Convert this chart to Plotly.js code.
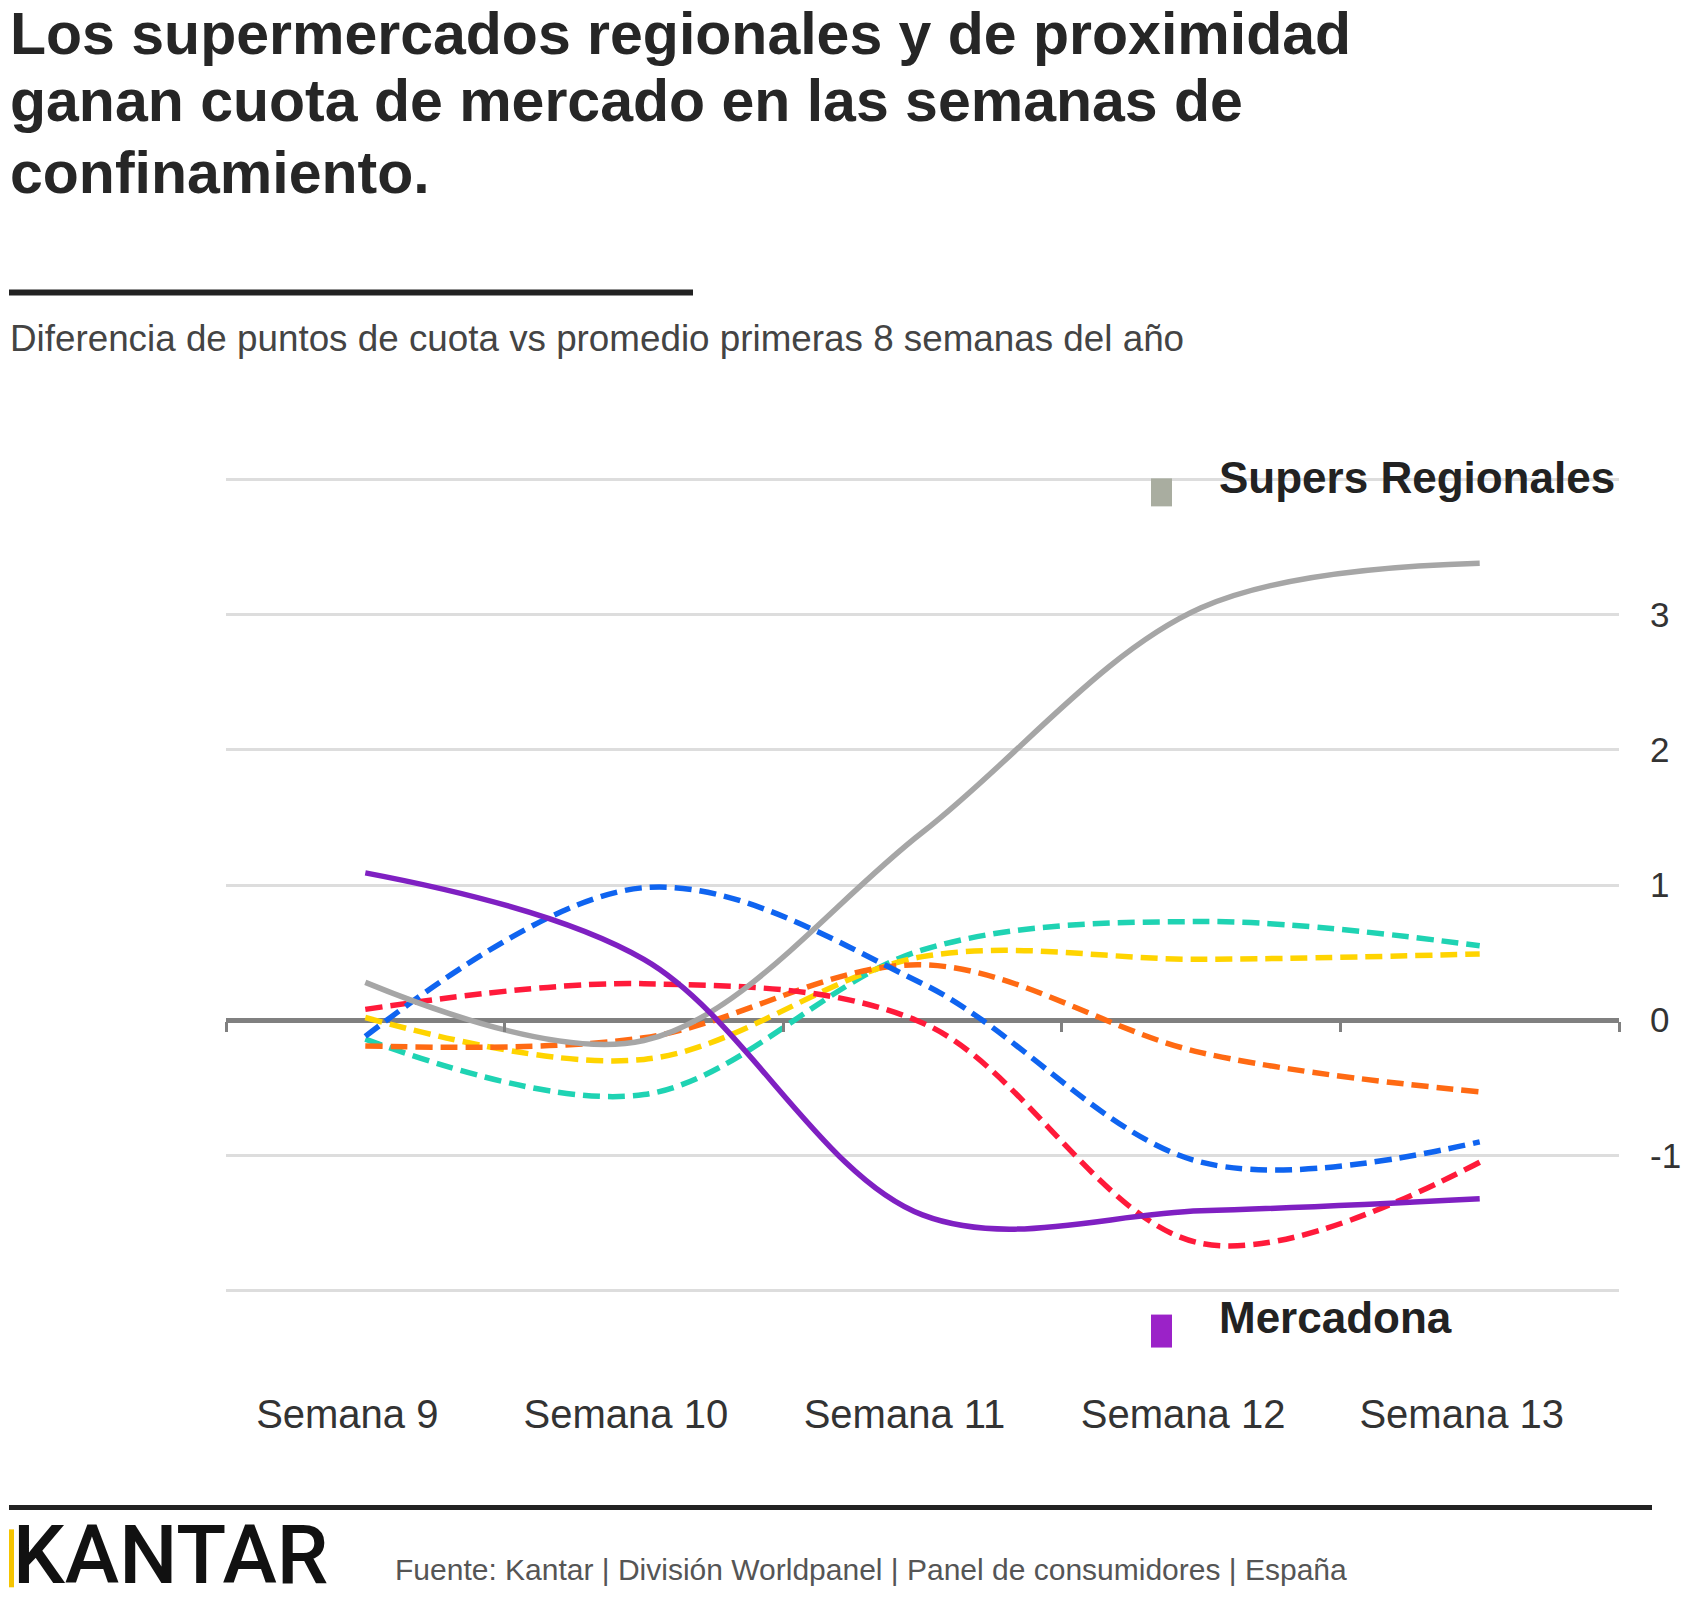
<!DOCTYPE html>
<html><head><meta charset="utf-8">
<script src="https://cdn.plot.ly/plotly-3.0.1.min.js"></script>
<style>html,body{margin:0;padding:0;background:#fff;}#chart{width:1706px;height:1604px;}</style>
</head><body><div id="chart"></div>
<script>
// ---- data ----
const weeks = ['Semana 9', 'Semana 10', 'Semana 11', 'Semana 12', 'Semana 13'];
const superRegionales = [0.28, -0.15, 1.39, 3.05, 3.38];
const mercadona = [1.09, 0.45, -1.44, -1.41, -1.32];
const serieAzul = [-0.12, 0.98, 0.27, -1.05, -0.90];
const serieRoja = [0.08, 0.27, -0.02, -1.65, -1.05];
const serieNaranja = [-0.19, -0.13, 0.41, -0.24, -0.53];
const serieAmarilla = [0.02, -0.29, 0.47, 0.45, 0.49];
const serieTurquesa = [-0.14, -0.55, 0.52, 0.73, 0.55];
const yTickVals = [-2, -1, 0, 1, 2, 3, 4];
const yTickText = ['', '-1', '0', '1', '2', '3', ''];
const legendNames = ['Supers Regionales', 'Mercadona'];
const titleLines = ['Los supermercados regionales y de proximidad', 'ganan cuota de mercado en las semanas de', 'confinamiento.'];
const subtitle = 'Diferencia de puntos de cuota vs promedio primeras 8 semanas del año';
const source = 'Fuente: Kantar | División Worldpanel | Panel de consumidores | España';

// ---- geometry helpers (pixels -> paper) ----
const W = 1706, H = 1604;
const M = {l: 226, r: 87, t: 477.6, b: 311.6};
const PW = W - M.l - M.r, PH = H - M.t - M.b;
const px = x => (x - M.l) / PW;
const py = y => (H - M.b - y) / PH;

const FONT = 'Liberation Sans, Arial, Helvetica, sans-serif';
const boundaries = weeks.map((_, i) => i - 0.5).concat([weeks.length - 0.5]);

function dashed(name, y, color) {
  return {x: weeks, y: y, name: name, type: 'scatter', mode: 'lines',
    line: {shape: 'spline', smoothing: 1, color: color, width: 5.5, dash: '17px,8px'},
    hoverinfo: 'skip'};
}
function solid(name, y, color) {
  return {x: weeks, y: y, name: name, type: 'scatter', mode: 'lines',
    line: {shape: 'spline', smoothing: 1, color: color, width: 5.5},
    hoverinfo: 'skip'};
}

const traces = [
  dashed('Serie turquesa', serieTurquesa, '#1fd3b3'),
  dashed('Serie amarilla', serieAmarilla, '#ffd400'),
  dashed('Serie naranja', serieNaranja, '#ff6a13'),
  dashed('Serie roja', serieRoja, '#ff1a3a'),
  dashed('Serie azul', serieAzul, '#0f64f0'),
  solid(legendNames[0], superRegionales, '#a6a6a6'),
  solid(legendNames[1], mercadona, '#7f20c2'),
  {x: [null], y: [null], xaxis: 'x2', yaxis: 'y', mode: 'lines', showlegend: false, hoverinfo: 'skip'}
];

const titleCenters = [33, 100, 172];
const titleAnnotations = titleLines.map((t, i) => ({
  xref: 'paper', yref: 'paper', x: px(8), y: py(titleCenters[i]), xanchor: 'left', yanchor: 'middle',
  showarrow: false, text: t, font: {family: FONT, size: 59, weight: 700, color: '#262626'}
}));

const layout = {
  width: W, height: H,
  margin: {l: M.l, r: M.r, t: M.t, b: M.b, pad: 0},
  paper_bgcolor: '#ffffff', plot_bgcolor: '#ffffff',
  showlegend: false,
  font: {family: FONT, color: '#333'},
  xaxis: {
    type: 'category', range: [-0.5, 4.5], showgrid: false, zeroline: false, showline: false,
    ticks: '', tickfont: {family: FONT, size: 40, color: '#333'}, ticklabelstandoff: 95,
    ticklabelshift: -18, automargin: false, fixedrange: true
  },
  xaxis2: {
    overlaying: 'x', anchor: 'free', position: py(1021), range: [-0.5, 4.5],
    tickvals: boundaries, ticks: 'outside', ticklen: 10, tickwidth: 3, tickcolor: '#808080',
    showticklabels: false, showgrid: false, zeroline: false, showline: false, fixedrange: true
  },
  yaxis: {
    range: [-2.01, 4.01], side: 'right', tickvals: yTickVals, ticktext: yTickText,
    showgrid: true, gridcolor: '#dddddd', gridwidth: 3,
    zeroline: true, zerolinecolor: '#808080', zerolinewidth: 5,
    ticks: '', tickfont: {family: FONT, size: 35, color: '#333'}, ticklabelstandoff: 30,
    showline: false, automargin: false, fixedrange: true
  },
  shapes: [
    {type: 'line', xref: 'paper', yref: 'paper', x0: px(9), x1: px(693), y0: py(292), y1: py(292), line: {color: '#222', width: 6}},
    {type: 'line', xref: 'paper', yref: 'paper', x0: px(9), x1: px(1652), y0: py(1508), y1: py(1508), line: {color: '#222', width: 5}},
    {type: 'rect', xref: 'paper', yref: 'paper', x0: px(1151), x1: px(1172), y0: py(478), y1: py(506), fillcolor: '#a9ada0', line: {width: 0}},
    {type: 'rect', xref: 'paper', yref: 'paper', x0: px(1151), x1: px(1172), y0: py(1315), y1: py(1348), fillcolor: '#9b22c8', line: {width: 0}},
    {type: 'rect', xref: 'paper', yref: 'paper', x0: px(9), x1: px(14), y0: py(1530), y1: py(1588), fillcolor: '#f5c400', line: {width: 0}}
  ],
  annotations: titleAnnotations.concat([
    {xref: 'paper', yref: 'paper', x: px(8), y: py(338), xanchor: 'left', yanchor: 'middle', showarrow: false,
      text: subtitle, font: {family: FONT, size: 36.8, color: '#444'}},
    {xref: 'paper', yref: 'paper', x: px(1217), y: py(477), xanchor: 'left', yanchor: 'middle', showarrow: false,
      text: legendNames[0], font: {family: FONT, size: 44, weight: 700, color: '#222'}},
    {xref: 'paper', yref: 'paper', x: px(1217), y: py(1318), xanchor: 'left', yanchor: 'middle', showarrow: false,
      text: legendNames[1], font: {family: FONT, size: 44, weight: 700, color: '#222'}},
    {xref: 'paper', yref: 'paper', x: px(11), y: py(1556), xanchor: 'left', yanchor: 'middle', showarrow: false,
      text: 'KANTAR', font: {family: 'Roboto, Liberation Sans, sans-serif', size: 82, weight: 500, color: '#111'}},
    {xref: 'paper', yref: 'paper', x: px(393), y: py(1570), xanchor: 'left', yanchor: 'middle', showarrow: false,
      text: source, font: {family: FONT, size: 30, color: '#555'}}
  ])
};

Plotly.newPlot('chart', traces, layout, {staticPlot: true, displayModeBar: false});
</script>
</body></html>
